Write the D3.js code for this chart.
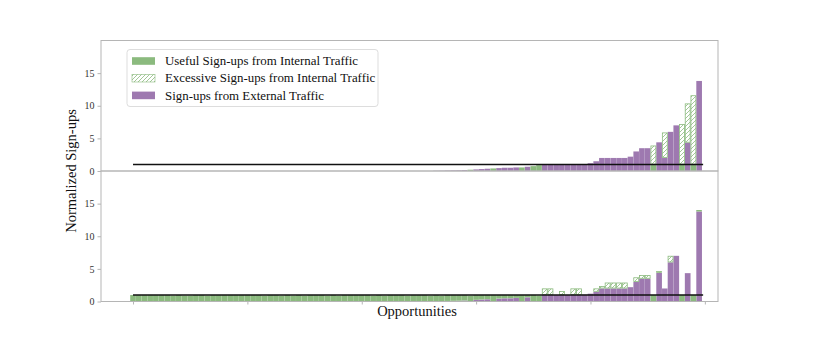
<!DOCTYPE html>
<html><head><meta charset="utf-8">
<script src="https://cdn.jsdelivr.net/npm/d3@7"></script>
<style>body{margin:0;background:#fff}svg{display:block}</style>
</head><body>
<script>
const external = [
 0,0,0,0,0,0,0,0,0,0,
 0,0,0,0,0,0,0,0,0,0,
 0,0,0,0,0,0,0,0,0,0,
 0,0,0,0,0,0,0,0,0,0,
 0,0,0,0,0,0,0,0,0,0,
 0,0,0,0.04,0.05,0.08,0.1,0.12,0.15,0,
 0.25,0.3,0.35,0,0.45,0.5,0.5,0.55,0,0.65,
 0,0,1.0,1.0,1.0,1.0,1.0,1.0,1.0,1.05,
 1.2,1.5,2.0,2.0,2.0,2.0,2.0,2.2,3.0,3.5,
 3.5,0,4.4,2.0,6.0,7.0,0,4.35,0,13.8];
const topUseful = [
 0,0,0,0,0,0,0,0,0,0,
 0,0,0,0,0,0,0,0,0,0,
 0,0,0,0,0,0,0,0,0,0,
 0,0,0,0,0,0,0,0,0,0,
 0,0,0,0,0,0,0,0,0,0,
 0,0,0,0,0,0,0,0,0,0.2,
 0,0,0,0.4,0,0,0,0,0.55,0,
 0.75,0.9,0,0,0,0,0,0,0,0,
 0,0,0,0,0,0,0,0,0,0,
 0,1,0,0,0,0,1,0,1,0];
const topExcess = [
 0,0,0,0,0,0,0,0,0,0,
 0,0,0,0,0,0,0,0,0,0,
 0,0,0,0,0,0,0,0,0,0,
 0,0,0,0,0,0,0,0,0,0,
 0,0,0,0,0,0,0,0,0,0,
 0,0,0,0,0,0,0,0,0,0,
 0,0,0,0,0,0,0,0,0,0,
 0,0,0,0,0,0,0,0,0,0,
 0,0,0,0,0,0,0,0,0,0,
 0,2.9,0,3.9,0,0,6.2,6.0,10.6,0];
const bottomUseful = [
 1,1,1,1,1,1,1,0.92,1,0.92,
 0.92,1,1,0.92,1,1,1,1,1,1,
 1,1,1,0.92,1,1,0.92,1,0.92,1,
 0.92,1,1,1,0.92,1,0.92,1,1,1,
 1,1,0.92,1,0.92,1,1,1,0.92,1,
 1,1,0.92,0.96,0.87,0.92,0.9,0.88,0.85,0.92,
 0.75,0.7,0.65,1,0.55,0.5,0.5,0.45,1,0.35,
 1,0.92,0,0,0,0,0,0,0,0,
 0,0,0,0,0,0,0,0,0,0,
 0,1,0,0,0,0,1,0,1,0];
const bottomExcess = [
 0,0,0,0,0,0,0,0,0,0,
 0,0,0,0,0,0,0,0,0,0,
 0,0,0,0,0,0,0,0,0,0,
 0,0,0,0,0,0,0,0,0,0,
 0,0,0,0,0,0,0,0,0,0,
 0,0,0,0,0,0,0,0,0,0,
 0,0,0,0,0,0,0,0,0,0,
 0,0,1.0,1.0,0,0.6,0,1.0,1.0,0,
 0,0.5,0.35,0.9,0.9,0.9,0.9,0,0.7,0.55,
 0.55,0,0.25,0,1.0,0,0,0,0,0.2];
const yTicks = [0,5,10,15];
const xTicks = [0,20,40,60,80,100];
const legendLabels = ["Useful Sign-ups from Internal Traffic","Excessive Sign-ups from Internal Traffic","Sign-ups from External Traffic"];
const refLevel = 1;

const W=814,H=339;
const GREEN="#8bba7e", PURPLE="#9e79b0", AX="#b5b5b5";
const FONT="'Liberation Serif','DejaVu Serif',serif";
const svg=d3.select("body").append("svg").attr("width",W).attr("height",H);
const defs=svg.append("defs");
const pat=defs.append("pattern").attr("id","hatch").attr("patternUnits","userSpaceOnUse")
 .attr("width",4).attr("height",4);
pat.append("rect").attr("width",4).attr("height",4).attr("fill","#fff");
pat.append("path").attr("d","M-1,1 l2,-2 M0,4 l4,-4 M3,5 l2,-2").attr("stroke",GREEN).attr("stroke-width",0.8);

const L=101,R=718;
const x=d3.scaleLinear().domain([-5.6,102.3]).range([L,R]);
const bw=x(1)-x(0);
const panels=[{top:40.5,bot:171,useful:topUseful,excess:topExcess},
              {top:171,bot:301.5,useful:bottomUseful,excess:bottomExcess}];
const idx=d3.range(external.length);

panels.forEach((p,pi)=>{
  const y=d3.scaleLinear().domain([0,20]).range([p.bot,p.top]);
  const g=svg.append("g");
  const stacks=idx.map(i=>{
    const e=external[i],u=p.useful[i],x2=p.excess[i];
    return {i,e0:0,e1:e,u0:e,u1:e+u,x0:e+u,x1:e+u+x2};
  });
  g.selectAll(".ext").data(stacks.filter(d=>d.e1>d.e0)).join("rect")
   .attr("x",d=>x(d.i-0.5)).attr("width",bw)
   .attr("y",d=>y(d.e1)).attr("height",d=>y(d.e0)-y(d.e1))
   .attr("fill",PURPLE).attr("stroke","#fff").attr("stroke-opacity",0.15).attr("stroke-width",0.4);
  g.selectAll(".use").data(stacks.filter(d=>d.u1>d.u0)).join("rect")
   .attr("x",d=>x(d.i-0.5)).attr("width",bw)
   .attr("y",d=>y(d.u1)).attr("height",d=>y(d.u0)-y(d.u1))
   .attr("fill",GREEN).attr("stroke","#fff").attr("stroke-opacity",0.15).attr("stroke-width",0.4);
  g.selectAll(".exc").data(stacks.filter(d=>d.x1>d.x0)).join("rect")
   .attr("x",d=>x(d.i-0.5)+0.4).attr("width",bw-0.8)
   .attr("y",d=>y(d.x1)+0.4).attr("height",d=>Math.max(0,y(d.x0)-y(d.x1)-0.8))
   .attr("fill","url(#hatch)").attr("stroke",GREEN).attr("stroke-width",0.8);
  g.append("line").attr("x1",x(0)).attr("x2",x(99.7)).attr("y1",y(refLevel)).attr("y2",y(refLevel))
   .attr("stroke","#111").attr("stroke-width",1.4);
  g.append("rect").attr("x",L).attr("y",p.top).attr("width",R-L).attr("height",p.bot-p.top)
   .attr("fill","none").attr("stroke",AX).attr("stroke-width",1);
  const ya=d3.axisLeft(y).tickValues(yTicks).tickSize(3.5).tickPadding(3).tickFormat(d3.format("d"));
  const yg=svg.append("g").attr("transform",`translate(${L},0)`).call(ya);
  yg.select(".domain").remove();
  yg.selectAll("line").attr("stroke",AX);
  yg.selectAll("text").attr("font-family",FONT).attr("font-size",10).attr("fill","#333");
  if(pi===1){
    const xa=d3.axisBottom(x).tickValues(xTicks).tickSize(3).tickFormat("");
    const xg=svg.append("g").attr("transform",`translate(0,${p.bot})`).call(xa);
    xg.select(".domain").remove();
    xg.selectAll("line").attr("stroke",AX);
  }
});

svg.append("text").attr("transform","translate(76,171) rotate(-90)").attr("text-anchor","middle")
 .attr("font-family",FONT).attr("font-size",14.5).attr("fill","#111").text("Normalized Sign-ups");
svg.append("text").attr("x",417).attr("y",316).attr("text-anchor","middle")
 .attr("font-family",FONT).attr("font-size",14.5).attr("fill","#111").text("Opportunities");

const lg=svg.append("g");
lg.append("rect").attr("x",127).attr("y",49.5).attr("width",251).attr("height",57).attr("rx",3)
 .attr("fill","#fff").attr("stroke","#ddd").attr("stroke-width",1);
const fills=[GREEN,"url(#hatch)",PURPLE];
legendLabels.forEach((t,i)=>{
  const cy=61+i*17.2;
  lg.append("rect").attr("x",132).attr("y",cy-3.8).attr("width",23).attr("height",7.6)
   .attr("fill",fills[i]).attr("stroke",i===1?GREEN:"none").attr("stroke-width",0.6);
  lg.append("text").attr("x",165).attr("y",cy+4.2).attr("font-family",FONT).attr("font-size",12.9)
   .attr("fill","#111").text(t);
});
</script>
</body></html>
